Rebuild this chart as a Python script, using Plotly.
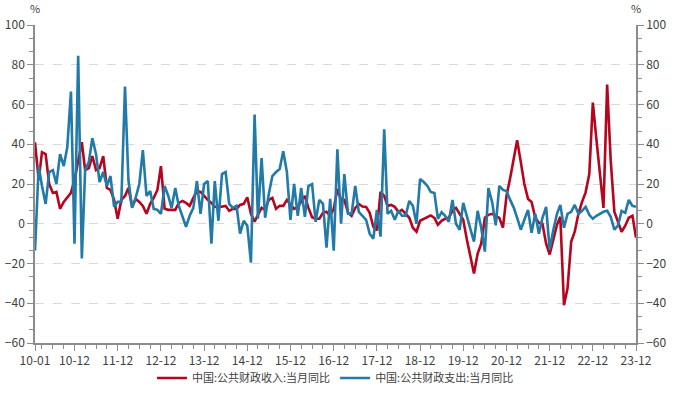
import pandas as pd
import plotly.graph_objects as go

# Monthly dates 2010-01 .. 2023-12
months = pd.date_range("2010-01-01", "2023-12-01", freq="MS")

# 中国:公共财政收入:当月同比 (%)
revenue = [
    41, 22, 36, 35, 20, 15.5, 16, 7.5, 11, 13.5, 15.5, 22,          # 2010
    32, 41, 27, 28, 34, 27, 28, 34, 18, 17, 12, 2.5,                # 2011
    12, 14, 18, 8.5, 12.5, 11, 9, 5, 10, 13, 17, 29,                # 2012
    7.5, 7, 7, 7, 10.5, 11.5, 10.5, 9, 13, 16.5, 16, 14,            # 2013
    12, 10.5, 8.5, 8.3, 8.5, 9, 6.5, 7.5, 7.5, 9.5, 10, 13.3,       # 2014
    5, 1, 4.5, 8, 7, 12, 13, 7.5, 9, 9, 12, 10,                     # 2015
    7.5, 8.3, 11, 14, 8, 3.3, 2.5, 2.5, 5.5, 6, 4, 7.5,             # 2016
    17.5, 12, 12, 5.5, 4, 8, 10, 8.7, 8.5, 5.5, -1.5, -3.3,         # 2017
    16, 14, 9, 9.5, 8.5, 6, 7, 5, 3, -2, -4, 1.5,                   # 2018
    2.5, 3.3, 4.2, 3, -0.5, 1.5, 2.5, 3, 6.5, 8, 5, 2,              # 2019
    -8, -16, -25, -15, -10, 3, 4.5, 5, 4, 3, -2, 14,                # 2020
    23, 33, 42, 31, 20, 12.5, 11, 3, 0.5, 0, -10, -15.5,            # 2021
    -8, -0.5, 3.5, -41, -32.5, -9, -4, 5, 11, 15.8, 25, 61,         # 2022
    42, 24, 8, 70, 32, 6, 1, -4, -1, 3, 4, -7,                      # 2023
]

# 中国:公共财政支出:当月同比 (%)
expenditure = [
    -13.5, 29, 19, 10, 26, 27, 20, 35, 29, 38.5, 66.5, -10,         # 2010
    84.5, -17.5, 27, 31, 43, 35, 21, 26, 19, 24, 8.5, 11,           # 2011
    11, 69, 22, 8, 13, 20, 37, 14, 16.5, 7.5, 7, 5,                 # 2012
    19, 14, 8, 18, 9, 4, -1.5, 4, 8, 21.5, 5, 20,                   # 2013
    21.5, -10, 21.5, 1.5, 25, 26, 10, 8, 9, -5, 1.5, -1,            # 2014
    -19.5, 55, 2.5, 33, 3, 15, 24, 26, 27.5, 36.5, 26, 2,           # 2015
    20, 4, 18, 3.5, 19, 20, 1, 12, 10, -12, 12.5, -13.5,            # 2016
    37.5, 0, 25, 5, 5, 19, 6, 4, 2, -5, -7.5, 7,                    # 2017
    -6.5, 47.5, 5, 6.5, 2, 6.5, 4, 4, 11.5, 9, 0, 22.5,             # 2018
    21, 19, 16, 15.5, 2.5, 5.8, 4, 1, 12, 0, -3, 10.5,              # 2019
    3, -3, -9, 6.5, -2, -14, 18, 11, -0.8, 19, 17, 16.5,            # 2020
    12, 8, 3, -3, 2, 7, -4.5, 5, -5, 3, 8.5, -13,                   # 2021
    -3, 5, 9.5, -2, 5, 6, 9.5, 5, 6.5, 8.5, 4.5, 2.5,               # 2022
    4, 5, 6, 6.5, 3.5, -3, -1, 6.5, 5.5, 12, 9, 8.5,                # 2023
]

series_names = ["中国:公共财政收入:当月同比", "中国:公共财政支出:当月同比"]
y_ticks = [-60, -40, -20, 0, 20, 40, 60, 80, 100]

major_idx = [0] + list(range(11, len(months), 12))
tick_dates = [months[i] for i in major_idx]
tick_text = [d.strftime("%y-%m") for d in tick_dates]
minor_dates = [months[i] for i in range(2, len(months), 3)]

RED = "#B5051F"
BLUE = "#217AA8"
AXIS = "#8C8C8C"
TXT = "#404040"
FONT = "Noto Sans CJK SC"

W, H = 688, 399

fig = go.Figure()
fig.add_trace(go.Scatter(x=months, y=revenue, name=series_names[0], mode="lines",
                         line=dict(color=RED, width=2.6), yaxis="y"))
fig.add_trace(go.Scatter(x=months, y=expenditure, name=series_names[1], mode="lines",
                         line=dict(color=BLUE, width=2.6), yaxis="y2"))

yaxis_common = dict(
    range=[-60, 100], tickvals=y_ticks, showline=True, linecolor=AXIS, linewidth=1.5,
    ticks="outside", ticklen=6, tickcolor=AXIS, tickwidth=1, automargin=False,
    tickfont=dict(size=12, color=TXT, family=FONT), zeroline=False,
    minor=dict(dtick=20 / 3, tick0=0, ticks="outside", ticklen=4, tickcolor=AXIS, showgrid=False),
)

fig.update_layout(
    width=W, height=H,
    margin=dict(l=35, r=52, t=25, b=56, autoexpand=False),
    paper_bgcolor="white", plot_bgcolor="white",
    font=dict(family=FONT, color=TXT, size=12),
    showlegend=True,
    legend=dict(orientation="h", x=0.5, xanchor="center", xref="paper",
                y=1 - 378 / H, yanchor="middle", yref="container",
                font=dict(size=11, color=TXT, family=FONT), itemwidth=30,
                bgcolor="rgba(0,0,0,0)"),
    xaxis=dict(
        type="date", range=[months[0], months[-1]], automargin=False,
        tickmode="array", tickvals=tick_dates, ticktext=tick_text,
        showline=True, linecolor=AXIS, linewidth=1.5,
        ticks="outside", ticklen=6, tickcolor=AXIS,
        tickfont=dict(size=12, color=TXT, family=FONT),
        showgrid=False, zeroline=False,
        minor=dict(tickmode="array", tickvals=minor_dates, ticks="outside", ticklen=4,
                   tickcolor=AXIS, showgrid=False),
    ),
    yaxis=dict(side="left", showgrid=True, gridcolor="#D9D9D9", griddash="dash", gridwidth=1,
               **yaxis_common),
    yaxis2=dict(side="right", overlaying="y", showgrid=False, **yaxis_common),
    annotations=[
        dict(text="%", xref="paper", yref="paper", x=0, y=1.053, showarrow=False,
             xanchor="center", yanchor="middle", font=dict(size=11, color=TXT, family=FONT)),
        dict(text="%", xref="paper", yref="paper", x=1, y=1.053, showarrow=False,
             xanchor="center", yanchor="middle", font=dict(size=11, color=TXT, family=FONT)),
    ],
)

fig.write_html(
    "out.html",
    config={"displayModeBar": False},
    post_script="document.body.style.margin='0';document.body.style.overflow='hidden';",
)
